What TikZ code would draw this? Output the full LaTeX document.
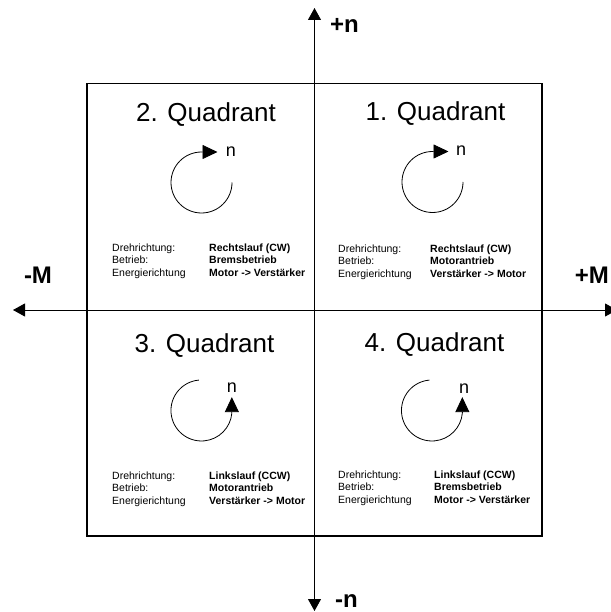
\documentclass[tikz,border=0pt]{standalone}
\usepackage{fontspec}
\setmainfont{Liberation Sans}
\usetikzlibrary{arrows.meta}
\begin{document}
\begin{tikzpicture}[x=1pt,y=-1pt,
  axis/.style={line width=0.9pt,{Triangle[length=12pt,width=13pt]}-{Triangle[length=12pt,width=13pt]}},
  boxline/.style={draw,line width=1.5pt,inner sep=0pt,outer sep=0pt,anchor=north west},
  rot/.style={line width=0.8pt,-{Triangle[length=15pt,width=14pt]}},
  title/.style={font=\fontsize{26}{30}\selectfont,anchor=base,inner sep=0pt},
  nlbl/.style={font=\fontsize{18}{22}\selectfont,anchor=base,inner sep=0pt},
  lbl/.style={font=\fontsize{10.5}{12}\selectfont,anchor=base west,inner sep=0pt},
  val/.style={font=\fontsize{10.5}{12}\selectfont\bfseries,anchor=base west,inner sep=0pt},
  axlbl/.style={font=\fontsize{24}{28}\selectfont\bfseries,inner sep=0pt}
]
\useasboundingbox (0,0) rectangle (610,612);
% outer box
\node[boxline,minimum width=455pt,minimum height=452.5pt] (box) at (87,83.5) {};
% axes
\coordinate (xl) at (13,310);
\coordinate (xr) at (617,310);
\coordinate (yt) at (314.5,8);
\coordinate (yb) at (314.5,611);
\draw[axis] (xl) -- (xr);
\draw[axis] (yt) -- (yb);
% axis labels
\node[axlbl,anchor=base] (mM) at (38,283) {-M};
\node[axlbl,anchor=base east] (pM) at (609,283) {+M};
\node[axlbl,anchor=base west] (pn) at (330,33) {+n};
\node[axlbl,anchor=base west] (mn) at (335,607) {-n};
% titles
\node[title] (t1) at (435.5,121) {1. Quadrant};
\node[title] (t2) at (206,122) {2. Quadrant};
\node[title] (t3) at (204.5,352) {3. Quadrant};
\node[title] (t4) at (434.5,351) {4. Quadrant};
% rotation arrows
\coordinate (c1) at (432.5,182);
\coordinate (c2) at (201.5,182.5);
\coordinate (c3) at (201.5,410.5);
\coordinate (c4) at (432,410.5);
\draw[rot] ([xshift=30.5pt]c1) arc[start angle=0,end angle=270,radius=30.5] -- ++(16,0);
\draw[rot] ([xshift=30.5pt]c2) arc[start angle=0,end angle=270,radius=30.5] -- ++(16,0);
\draw[rot] ([shift={(-2.7,-30.4)}]c3) arc[start angle=265,end angle=5,radius=30.5] -- ++(0,-16);
\draw[rot] ([shift={(-2.7,-30.4)}]c4) arc[start angle=265,end angle=5,radius=30.5] -- ++(0,-16);
\node[nlbl] (n1) at (461,156) {n};
\node[nlbl] (n2) at (231,157) {n};
\node[nlbl] (n3) at (232,392) {n};
\node[nlbl] (n4) at (464,393) {n};
% quadrant 1 text
\node[lbl] (d1) at (338,252) {Drehrichtung:};
\node[lbl] (b1) at (338,264.5) {Betrieb:};
\node[lbl] (e1) at (338,277) {Energierichtung};
\node[val] (dv1) at (430,252) {Rechtslauf (CW)};
\node[val] (bv1) at (430,264.5) {Motorantrieb};
\node[val] (ev1) at (430,277) {Verstärker -> Motor};
% quadrant 2 text
\node[lbl] (d2) at (112,251) {Drehrichtung:};
\node[lbl] (b2) at (112,263.5) {Betrieb:};
\node[lbl] (e2) at (112,276) {Energierichtung};
\node[val] (dv2) at (209,251) {Rechtslauf (CW)};
\node[val] (bv2) at (209,263.5) {Bremsbetrieb};
\node[val] (ev2) at (209,276) {Motor -> Verstärker};
% quadrant 3 text
\node[lbl] (d3) at (112,479) {Drehrichtung:};
\node[lbl] (b3) at (112,491.5) {Betrieb:};
\node[lbl] (e3) at (112,504) {Energierichtung};
\node[val] (dv3) at (209,479) {Linkslauf (CCW)};
\node[val] (bv3) at (209,491.5) {Motorantrieb};
\node[val] (ev3) at (209,504) {Verstärker -> Motor};
% quadrant 4 text
\node[lbl] (d4) at (338,478) {Drehrichtung:};
\node[lbl] (b4) at (338,490.5) {Betrieb:};
\node[lbl] (e4) at (338,503) {Energierichtung};
\node[val] (dv4) at (434,478) {Linkslauf (CCW)};
\node[val] (bv4) at (434,490.5) {Bremsbetrieb};
\node[val] (ev4) at (434,503) {Motor -> Verstärker};
\end{tikzpicture}
\end{document}
